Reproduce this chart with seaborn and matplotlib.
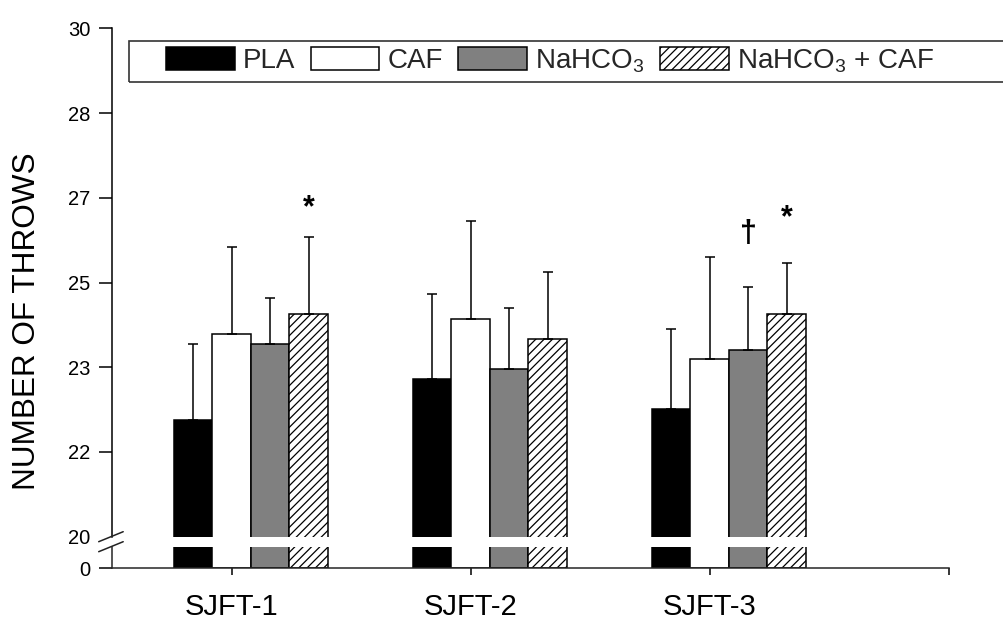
import numpy as np
import pandas as pd
import matplotlib
matplotlib.use("Agg")
import matplotlib.pyplot as plt
from matplotlib.patches import Patch, Rectangle
from matplotlib.lines import Line2D
import seaborn as sns

# ---------------- data ----------------
tests = ["SJFT-1", "SJFT-2", "SJFT-3"]
conditions = ["PLA", "CAF", "NaHCO3", "NaHCO3 + CAF"]
legend_labels = ["PLA", "CAF", "NaHCO$_3$", "NaHCO$_3$ + CAF"]

pla_mean = [22.30, 23.10, 22.51]
caf_mean = [23.99, 24.28, 23.50]
nahco3_mean = [23.80, 23.29, 23.67]
combo_mean = [24.38, 23.89, 24.38]

pla_sd = [1.50, 1.67, 1.57]
caf_sd = [1.70, 1.93, 2.01]
nahco3_sd = [0.89, 1.21, 1.24]
combo_sd = [1.51, 1.31, 1.00]

y_ticks = [20, 21.667, 23.333, 25, 26.667, 28.333, 30]
y_tick_labels = ["20", "22", "23", "25", "27", "28", "30"]

sig_tests = ["SJFT-1", "SJFT-3", "SJFT-3"]
sig_conditions = ["NaHCO3 + CAF", "NaHCO3", "NaHCO3 + CAF"]
sig_symbols = ["*", "\u2020", "*"]
sig_y = [26.47, 25.95, 26.26]
sig_sizes = [22, 22, 22]
sig_weights = ["bold", "bold", "bold"]

# ---------------- styling ----------------
face_colors = ["#000000", "#ffffff", "#808080", "#ffffff"]
hatches = ["", "", "", "////"]

sns.set_style("white")
plt.rcParams["font.family"] = ["Liberation Sans", "DejaVu Sans"]
plt.rcParams["mathtext.fontset"] = "custom"
plt.rcParams["mathtext.rm"] = "Liberation Sans"
plt.rcParams["mathtext.it"] = "Liberation Sans:italic"
plt.rcParams["mathtext.bf"] = "Liberation Sans:bold"
plt.rcParams["hatch.linewidth"] = 0.9
plt.rcParams["axes.linewidth"] = 1.1

means = [pla_mean, caf_mean, nahco3_mean, combo_mean]
sds = [pla_sd, caf_sd, nahco3_sd, combo_sd]
rows = []
for cond, m in zip(conditions, means):
    for t, v in zip(tests, m):
        rows.append({"test": t, "condition": cond, "value": v})
df = pd.DataFrame(rows)
palette = dict(zip(conditions, face_colors))

W, H = 1004, 621
fig = plt.figure(figsize=(W / 100, H / 100), dpi=100)

left_px, right_px = 111.7, 949.0
top_px, y20_px = 28.3, 536.7
low_top_px, low_bot_px = 546.7, 568.0

ax = fig.add_axes([left_px / W, 1 - y20_px / H, (right_px - left_px) / W, (y20_px - top_px) / H])
axl = fig.add_axes([left_px / W, 1 - low_bot_px / H, (right_px - left_px) / W, (low_bot_px - low_top_px) / H])

bar_width = 0.645
for a in (ax, axl):
    sns.barplot(data=df, x="test", y="value", hue="condition", order=tests,
                hue_order=conditions, palette=palette, width=bar_width,
                edgecolor="black", linewidth=1.1, errorbar=None, legend=False,
                saturation=1, ax=a)
    for cont, h in zip(a.containers, hatches):
        for bar in cont:
            bar.set_hatch(h)
    a.set_xlim(-0.582, 2.921)
    a.set_xlabel("")
    a.set_ylabel("")

# error bars (upper only) on the top axes
for cont, sd in zip(ax.containers, sds):
    xs = [b.get_x() + b.get_width() / 2 for b in cont]
    ys = [b.get_height() for b in cont]
    ax.errorbar(xs, ys, yerr=[np.zeros(len(sd)), sd], fmt="none", ecolor="black",
                elinewidth=1.1, capsize=3.8, capthick=1.1, zorder=1)

# top axes styling
ax.set_ylim(20, 30)
ax.set_yticks(y_ticks)
ax.set_yticklabels(y_tick_labels)
ax.set_xticks([])
for s in ["top", "right", "bottom"]:
    ax.spines[s].set_visible(False)
ax.spines["left"].set_color("black")
ax.tick_params(axis="y", direction="out", length=9.4, width=1.1, pad=6.0,
               labelsize=14.5, left=True, colors="black")
ax.yaxis.get_major_ticks()[0].tick1line.set_visible(False)
ax.patch.set_alpha(0)

# lower axes styling
axl.set_ylim(0, 1)
axl.set_yticks([0])
axl.set_yticklabels(["0"])
for s in ["top", "right"]:
    axl.spines[s].set_visible(False)
white_centers = [b.get_x() + b.get_width() / 2 for b in axl.containers[1]]
axl.set_xticks(white_centers + [axl.get_xlim()[1]])
axl.set_xticklabels(tests + [""])
axl.tick_params(axis="y", direction="out", length=9.4, width=1.1, pad=6.0,
                labelsize=14.5, left=True, colors="black")
axl.tick_params(axis="x", direction="out", length=5, width=1.1, pad=13,
                labelsize=21, bottom=True, colors="black")
axl.patch.set_alpha(0)

# significance marks
for t, c, sym, yv, fs, fw in zip(sig_tests, sig_conditions, sig_symbols, sig_y,
                                 sig_sizes, sig_weights):
    bar = ax.containers[conditions.index(c)][tests.index(t)]
    ax.text(bar.get_x() + bar.get_width() / 2, yv, sym, ha="center", va="center",
            fontsize=fs, fontweight=fw, color="black")

# y label
fig.text(26.7 / W, 1 - 321.5 / H, "NUMBER OF THROWS", rotation=90, ha="center",
         va="center", fontsize=22.7, color="black")

# axis break marks
for yc in (y20_px, low_top_px):
    fig.add_artist(Line2D([(left_px - 13) / W, (left_px + 11.5) / W],
                          [1 - (yc + 5) / H, 1 - (yc - 5) / H],
                          transform=fig.transFigure, color="#222222", lw=1.1))

# legend
handles = [Patch(facecolor=fc, edgecolor="black", hatch=h, linewidth=1.1)
           for fc, h in zip(face_colors, hatches)]
ax.legend(handles, legend_labels, loc="center left", ncol=4, frameon=False,
          bbox_to_anchor=(166 / W, 1 - 61 / H), bbox_transform=fig.transFigure,
          fontsize=20, handlelength=2.48, handleheight=0.86, handletextpad=0.29,
          columnspacing=0.55, borderpad=0, borderaxespad=0)
fig.add_artist(Rectangle((129 / W, 1 - 82 / H), (1010 - 129) / W, 41 / H,
                         transform=fig.transFigure, fill=False, edgecolor="#333333",
                         lw=1.2, clip_on=False))

fig.savefig("out.png", dpi=100, facecolor="white")
